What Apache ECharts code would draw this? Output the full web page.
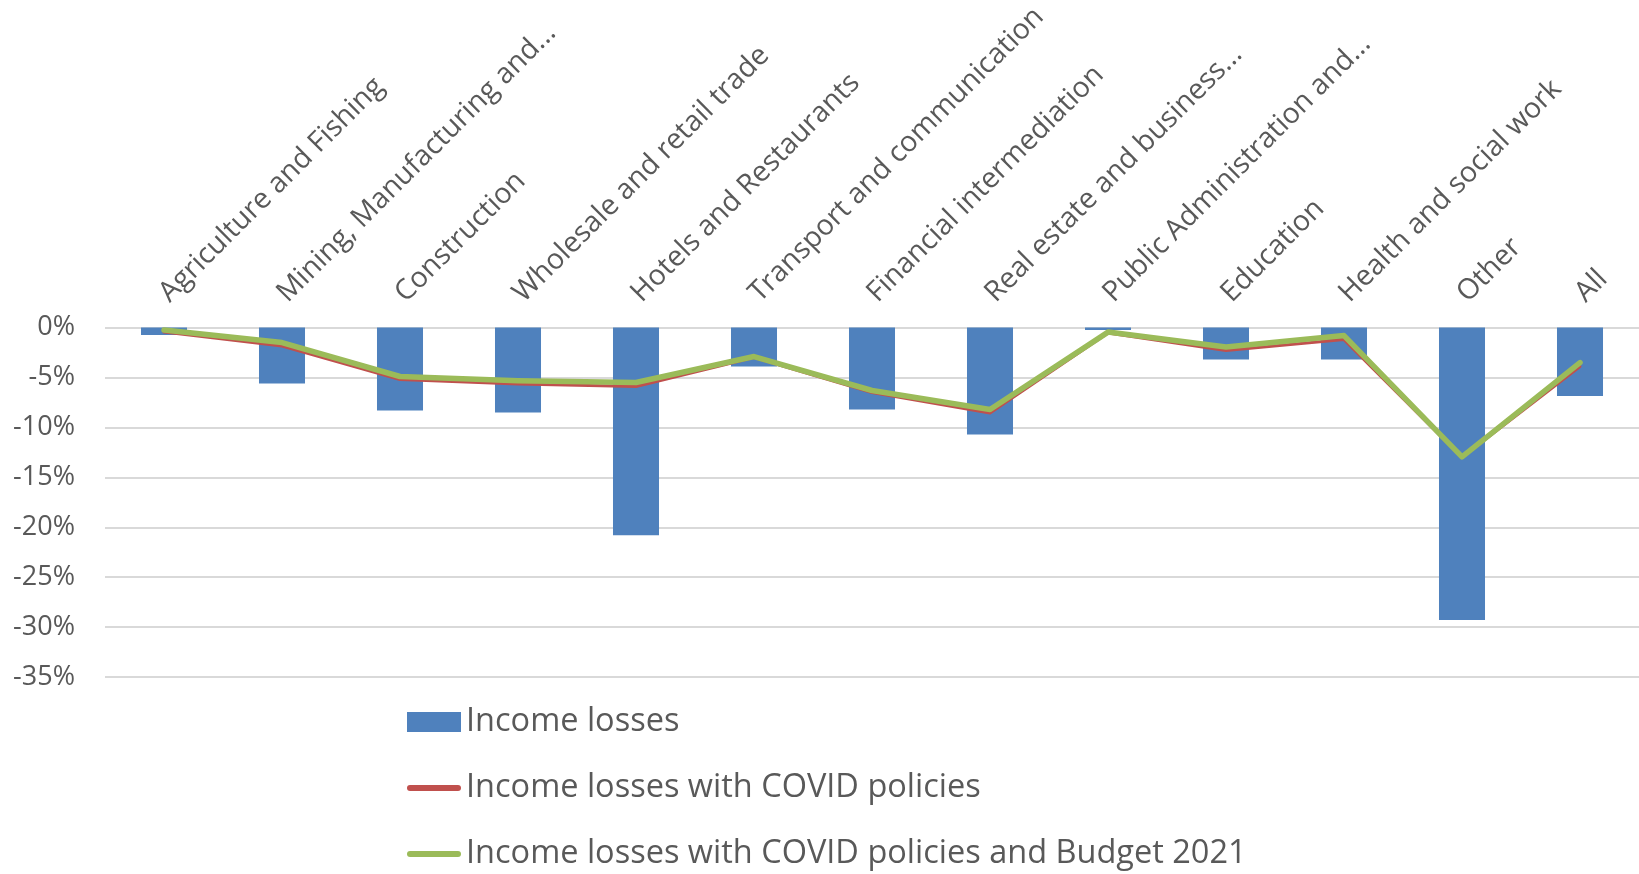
<!DOCTYPE html>
<html>
<head>
<meta charset="utf-8">
<title>Income losses by sector</title>
<script src="https://cdn.jsdelivr.net/npm/echarts@6/dist/echarts.min.js"></script>
<style>
  html, body { margin: 0; padding: 0; background: #ffffff; }
  #chart { width: 1639px; height: 874px; }
</style>
</head>
<body>
<div id="chart"></div>
<script>
// Sectors (long names are shortened with an ellipsis)
const categories = [
  'Agriculture and Fishing',
  'Mining, Manufacturing and...',
  'Construction',
  'Wholesale and retail trade',
  'Hotels and Restaurants',
  'Transport and communication',
  'Financial intermediation',
  'Real estate and business...',
  'Public Administration and...',
  'Education',
  'Health and social work',
  'Other',
  'All'
];

// Change in income, percent
const incomeLosses = [-0.75, -5.6, -8.3, -8.5, -20.8, -3.9, -8.2, -10.7, -0.25, -3.2, -3.2, -29.3, -6.85];
const withCovidPolicies = [-0.45, -1.85, -5.2, -5.65, -5.9, -3.0, -6.5, -8.55, -0.55, -2.3, -1.2, -13.0, -3.9];
const withCovidPoliciesBudget = [-0.25, -1.5, -4.9, -5.33, -5.5, -2.9, -6.3, -8.2, -0.45, -1.95, -0.8, -12.95, -3.5];

const seriesNames = [
  'Income losses',
  'Income losses with COVID policies',
  'Income losses with COVID policies and Budget 2021'
];

const textColor = '#595959';
const fontFamily = '"Open Sans", "Liberation Sans", sans-serif';
// Thin rounded bar used as the legend key for the line series
const lineKey = 'path://M3,0H51A3,3 0 0 1 51,6H3A3,3 0 0 1 3,0Z';

const chart = echarts.init(document.getElementById('chart'), null, { renderer: 'canvas' });

chart.setOption({
  animation: false,
  backgroundColor: '#ffffff',
  textStyle: { fontFamily: fontFamily },
  grid: { left: 105, right: 0, top: 326, bottom: 197 },
  legend: {
    orient: 'vertical',
    left: 407,
    top: 702,
    padding: 0,
    itemGap: 26,
    itemWidth: 54,
    itemHeight: 20,
    symbolKeepAspect: true,
    textStyle: { fontSize: 32.5, color: textColor, lineHeight: 40, fontFamily: fontFamily },
    data: [
      { name: seriesNames[0], icon: 'rect' },
      { name: seriesNames[1], icon: lineKey },
      { name: seriesNames[2], icon: lineKey }
    ]
  },
  xAxis: {
    type: 'category',
    position: 'top',
    data: categories,
    axisLine: { show: false },
    axisTick: { show: false },
    axisLabel: {
      interval: 0,
      rotate: 45,
      margin: 30,
      fontSize: 28.5,
      color: textColor,
      fontFamily: fontFamily
    }
  },
  yAxis: {
    type: 'value',
    min: -35,
    max: 0,
    interval: 5,
    axisLine: { show: false },
    axisTick: { show: false },
    axisLabel: {
      formatter: '{value}%',
      fontSize: 27,
      margin: 30,
      color: textColor,
      fontFamily: fontFamily
    },
    splitLine: { lineStyle: { color: '#d9d9d9', width: 2 } }
  },
  series: [
    {
      name: seriesNames[0],
      type: 'bar',
      data: incomeLosses,
      barWidth: '39%',
      itemStyle: { color: '#4f81bd' }
    },
    {
      name: seriesNames[1],
      type: 'line',
      data: withCovidPolicies,
      symbol: 'none',
      lineStyle: { color: '#c0504d', width: 3, cap: 'round', join: 'round' },
      itemStyle: { color: '#c0504d' },
      z: 3
    },
    {
      name: seriesNames[2],
      type: 'line',
      data: withCovidPoliciesBudget,
      symbol: 'none',
      lineStyle: { color: '#9bbb59', width: 5.5, cap: 'round', join: 'round' },
      itemStyle: { color: '#9bbb59' },
      z: 4
    }
  ]
});
</script>
</body>
</html>
